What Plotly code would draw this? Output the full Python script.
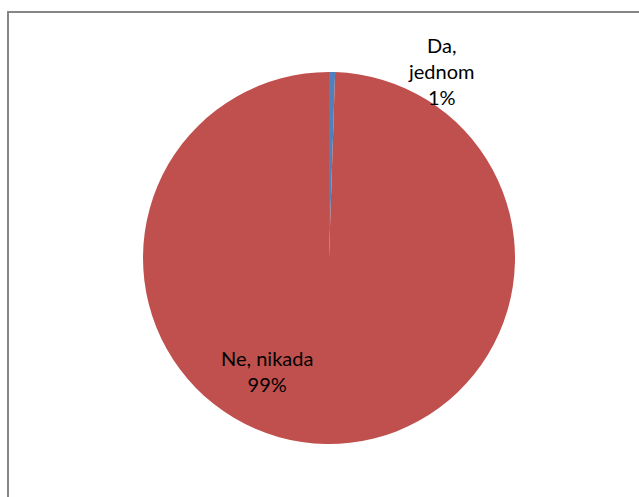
import plotly.graph_objects as go

labels = ["Da, jednom", "Ne, nikada"]
values = [1, 190]
label_lines = ["Da,<br>jednom", "Ne, nikada"]
colors = ["#4F81BD", "#C0504D"]

W, H = 639, 497
total = sum(values)
pcts = [round(v / total * 100) for v in values]

fig = go.Figure(go.Pie(
    labels=labels,
    values=values,
    sort=False,
    direction="clockwise",
    rotation=0,
    marker=dict(colors=colors, line=dict(width=0)),
    textinfo="none",
    hoverinfo="label+percent",
    showlegend=False,
    domain=dict(x=[143 / W, 515 / W], y=[(H - 444) / H, (H - 72) / H]),
))

font = dict(family="Lato, Carlito, Calibri, sans-serif", size=20, color="#000000")
label_pos = [(441, 71), (267, 371)]
for i, (px, py) in enumerate(label_pos):
    fig.add_annotation(
        x=px / W, y=1 - py / H, xref="paper", yref="paper",
        text=f"{label_lines[i]}<br>{pcts[i]}%",
        showarrow=False, font=font, align="center",
        xanchor="center", yanchor="middle",
    )

# chart area border (only top and left visible)
fig.add_shape(type="rect", xref="paper", yref="paper",
              x0=8 / W, x1=1.2, y0=-0.2, y1=1 - 12 / H,
              line=dict(color="#868686", width=2), fillcolor="rgba(0,0,0,0)")

fig.update_layout(
    width=W, height=H,
    margin=dict(l=0, r=0, t=0, b=0),
    paper_bgcolor="white", plot_bgcolor="white",
)

fig.write_html("out.html", config={"displayModeBar": False},
               post_script="document.body.style.margin='0';")
